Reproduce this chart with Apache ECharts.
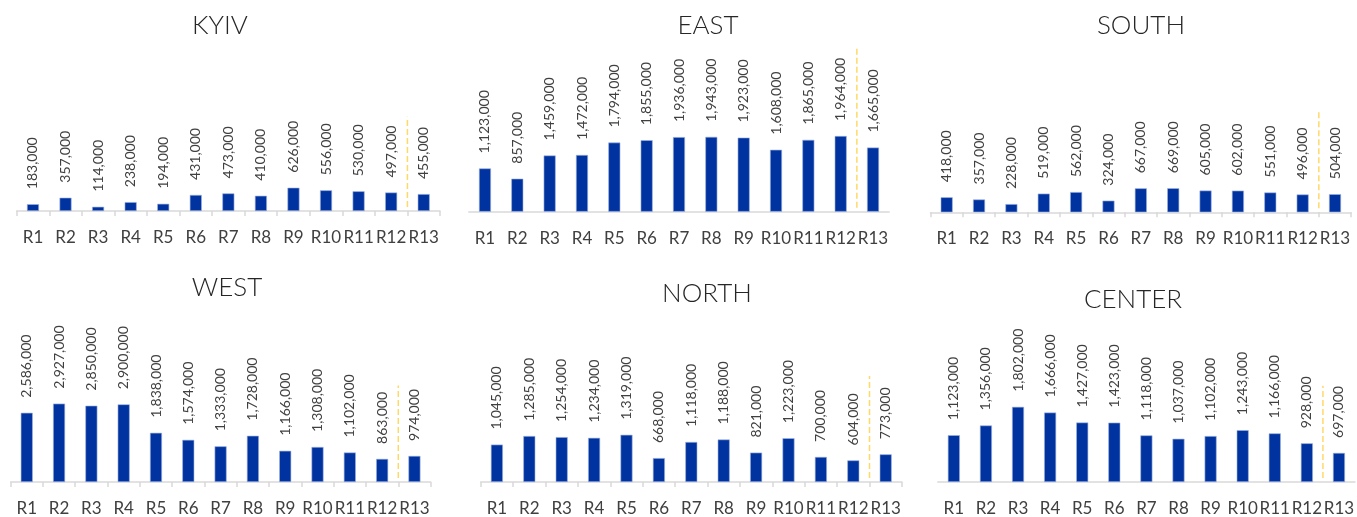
<!DOCTYPE html>
<html>
<head>
<meta charset="utf-8">
<script src="https://cdn.jsdelivr.net/npm/echarts@6/dist/echarts.min.js"></script>
<style>
html,body{margin:0;padding:0;background:#fff;}
#c{width:1357px;height:517px;}
</style>
</head>
<body>
<div id="c"></div>
<script>
// ---- data ----
const categories = ['R1','R2','R3','R4','R5','R6','R7','R8','R9','R10','R11','R12','R13'];
const regionNames = ['KYIV','EAST','SOUTH','WEST','NORTH','CENTER'];
const kyiv   = [183000,357000,114000,238000,194000,431000,473000,410000,626000,556000,530000,497000,455000];
const east   = [1123000,857000,1459000,1472000,1794000,1855000,1936000,1943000,1923000,1608000,1865000,1964000,1665000];
const south  = [418000,357000,228000,519000,562000,324000,667000,669000,605000,602000,551000,496000,504000];
const west   = [2586000,2927000,2850000,2900000,1838000,1574000,1333000,1728000,1166000,1308000,1102000,863000,974000];
const north  = [1045000,1285000,1254000,1234000,1319000,668000,1118000,1188000,821000,1223000,700000,604000,773000];
const center = [1123000,1356000,1802000,1666000,1427000,1423000,1118000,1037000,1102000,1243000,1166000,928000,697000];
const seriesValues = [kyiv, east, south, west, north, center];
// divider (dashed line between R12 and R13): top of line in data units
const dividerTop = [2530000, 4250000, 2790000, 3600000, 2960000, 2310000];

// ---- layout (positions / scales) ----
const layout = [
  {left:16.7,  width:423.3, baseline:211.0, perPx:26870, yMax:4000000, ticks:true,  tx:215,  ty:22},
  {left:468.8, width:420.4, baseline:211.7, perPx:25950, yMax:4500000, ticks:false, tx:703,  ty:22},
  {left:930.5, width:420.7, baseline:212.3, perPx:27800, yMax:4000000, ticks:true,  tx:1136, ty:22},
  {left:10.6,  width:420.0, baseline:483.3, perPx:37050, yMax:6000000, ticks:true,  tx:222,  ty:284},
  {left:480.7, width:421.2, baseline:482.3, perPx:27880, yMax:4000000, ticks:true,  tx:702,  ty:290},
  {left:937.8, width:421.2, baseline:485.0, perPx:23500, yMax:3500000, ticks:false, tx:1128, ty:296}
];

const FONT = 'Lato, "Open Sans", sans-serif';
const grids = [], xAxes = [], yAxes = [], series = [], titles = [];
layout.forEach((L, i) => {
  const h = L.yMax / L.perPx;
  grids.push({left: L.left, top: L.baseline - h, width: L.width, height: h, containLabel: false});
  xAxes.push({
    type: 'category', gridIndex: i, data: categories,
    axisLine: {show: true, lineStyle: {color: '#d9d9d9', width: 1.5}},
    axisTick: {show: L.ticks, alignWithLabel: false, length: 5, lineStyle: {color: '#d9d9d9', width: 1.5}},
    axisLabel: {color: '#404040', fontSize: 17, fontFamily: FONT, margin: 18, interval: 0}
  });
  yAxes.push({type: 'value', gridIndex: i, min: 0, max: L.yMax, show: false, splitLine: {show: false}});
  series.push({
    type: 'bar', xAxisIndex: i, yAxisIndex: i, data: seriesValues[i],
    barWidth: 12,
    itemStyle: {color: '#0033a0', borderColor: '#9fb3df', borderWidth: 0.6},
    label: {
      show: true, position: 'top', rotate: 90, align: 'left', verticalAlign: 'middle', distance: 15,
      color: '#404040', fontSize: 14, fontFamily: FONT,
      formatter: p => p.value.toLocaleString('en-US')
    }
  });
  titles.push({
    text: regionNames[i], left: L.tx, top: L.ty - 14, textAlign: 'center',
    textStyle: {fontFamily: FONT, fontWeight: 300, fontSize: 26, color: '#262626'}
  });
});
// hidden value x-axes, one per grid, for the dashed divider between R12 and R13
layout.forEach((L, i) => {
  xAxes.push({type: 'value', gridIndex: i, min: -0.5, max: categories.length - 0.5, show: false, splitLine: {show: false}});
  series.push({
    type: 'line', xAxisIndex: layout.length + i, yAxisIndex: i,
    data: [[categories.length - 1.5, L.perPx * 4], [categories.length - 1.5, dividerTop[i]]],
    symbol: 'none', silent: true,
    lineStyle: {color: '#ffd966', type: 'dashed', width: 1.5}
  });
});

const chart = echarts.init(document.getElementById('c'), null, {renderer: 'canvas'});
chart.setOption({
  animation: false,
  title: titles,
  grid: grids,
  xAxis: xAxes,
  yAxis: yAxes,
  series: series
});
</script>
</body>
</html>
